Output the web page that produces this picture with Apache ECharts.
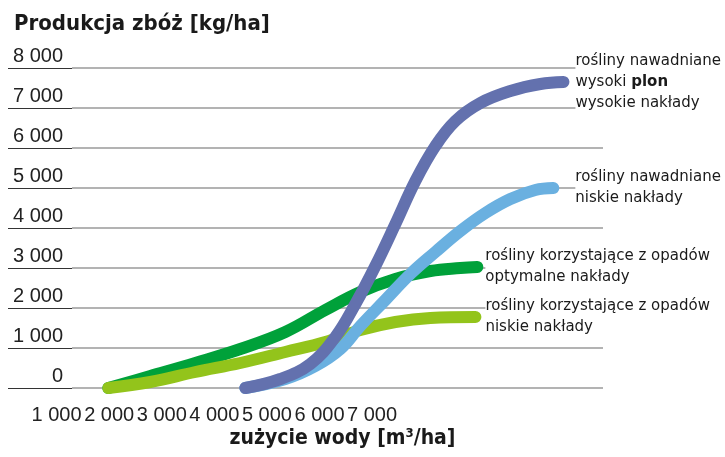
<!DOCTYPE html>
<html>
<head>
<meta charset="utf-8">
<script src="https://cdn.jsdelivr.net/npm/echarts@6/dist/echarts.min.js"></script>
<style>
  html, body { margin: 0; padding: 0; background: #fff; }
  #chart { width: 725px; height: 457px; }
</style>
</head>
<body>
<div id="chart"></div>
<script>
// water use [m3/ha] and yield [kg/ha]
const irrHighX = [4590, 5255, 5826, 6301, 6682, 7062, 7443, 7823, 8204, 8584, 9060, 9630, 10201, 10639];
const irrHighY = [0, 225, 600, 1275, 2100, 3050, 4100, 5175, 6050, 6675, 7125, 7425, 7600, 7650];

const irrLowX = [4590, 5350, 5921, 6396, 6777, 7252, 7728, 8204, 8679, 9155, 9630, 10105, 10447];
const irrLowY = [0, 225, 550, 975, 1550, 2200, 2850, 3400, 3925, 4375, 4725, 4950, 5000];

const rainOptX = [1984, 2783, 3639, 4494, 5350, 6111, 6777, 7443, 8109, 8679, 9002];
const rainOptY = [0, 300, 625, 975, 1400, 1950, 2400, 2725, 2925, 3000, 3025];

const rainLowX = [1984, 2783, 3639, 4494, 5350, 6111, 6777, 7443, 8109, 8965];
const rainLowY = [0, 150, 400, 625, 900, 1150, 1450, 1650, 1750, 1775];

const xTicks = [1000, 2000, 3000, 4000, 5000, 6000, 7000];
const yTicks = [0, 1000, 2000, 3000, 4000, 5000, 6000, 7000, 8000];

const fmt = (v) => (v === 0 ? '0' : (v / 1000) + ' 000');
const zip = (xs, ys) => xs.map((x, i) => [x, ys[i]]);

const labelFont = 'DejaVu Sans';
const boldFont = "'DejaVu Sans Condensed', 'DejaVu Sans'";
const txt = { fontFamily: labelFont, fontSize: 15, lineHeight: 21, color: '#1a1a1a' };

const makeLine = (name, xs, ys, color, label, distance, rich) => ({
  name,
  type: 'line',
  xAxisIndex: 1,
  yAxisIndex: 1,
  data: zip(xs, ys),
  smooth: 0.4,
  showSymbol: false,
  clip: false,
  lineStyle: { color, width: 12, cap: 'round', join: 'round' },
  endLabel: {
    show: true,
    formatter: label,
    distance,
    align: 'left',
    verticalAlign: 'middle',
    backgroundColor: '#fff',
    padding: [3, 6, 3, 0],
    ...txt,
    rich: rich || {}
  }
});

const chart = echarts.init(document.getElementById('chart'));

chart.setOption({
  animation: false,
  backgroundColor: '#fff',
  title: {
    text: 'Produkcja zbóż [kg/ha]',
    left: 9,
    top: 8,
    textStyle: {
      fontFamily: boldFont,
      fontWeight: 'bold',
      fontSize: 22,
      color: '#1a1a1a'
    }
  },
  grid: [
    { left: 72, right: 122, top: 68, bottom: 69, outerBoundsMode: 'none' },
    { left: 4, right: 90, top: 68, bottom: 69, outerBoundsMode: 'none' }
  ],
  xAxis: [
    {
      gridIndex: 0,
      type: 'value',
      min: 0,
      max: 1,
      name: 'zużycie wody [m³/ha]',
      nameLocation: 'middle',
      nameGap: 40,
      nameTextStyle: {
        fontFamily: boldFont,
        fontWeight: 'bold',
        fontSize: 21,
        color: '#1a1a1a',
        padding: [0, 0, 0, 10]
      },
      axisLine: { show: false },
      axisTick: { show: false },
      axisLabel: { show: false },
      splitLine: { show: false }
    },
    {
      gridIndex: 1,
      type: 'value',
      min: 0,
      max: 12000,
      interval: 1000,
      axisLine: { show: false },
      axisTick: { show: false },
      splitLine: { show: false },
      axisLabel: {
        margin: 17,
        fontFamily: 'Liberation Sans',
        fontSize: 20,
        color: '#222',
        formatter: (v) => (xTicks.includes(v) ? fmt(v) : '')
      }
    }
  ],
  yAxis: [
    {
      gridIndex: 0,
      type: 'value',
      min: yTicks[0],
      max: yTicks[yTicks.length - 1],
      interval: 1000,
      axisLine: { show: false },
      axisTick: { show: true, length: 64, lineStyle: { color: '#333', width: 1 } },
      splitLine: { lineStyle: { color: '#9a9a9a', width: 1.5 } },
      axisLabel: {
        margin: 9,
        fontFamily: 'Liberation Sans',
        fontSize: 20,
        lineHeight: 24,
        verticalAlign: 'bottom',
        color: '#222',
        formatter: fmt
      }
    },
    {
      gridIndex: 1,
      type: 'value',
      min: 0,
      max: 8000,
      show: false
    }
  ],
  series: [
    makeLine('rośliny korzystające z opadów, optymalne nakłady', rainOptX, rainOptY, '#00a13a',
      'rośliny korzystające z opadów\noptymalne nakłady', 8),
    makeLine('rośliny korzystające z opadów, niskie nakłady', rainLowX, rainLowY, '#93c41b',
      'rośliny korzystające z opadów\nniskie nakłady', 10),
    makeLine('rośliny nawadniane, niskie nakłady', irrLowX, irrLowY, '#6ab0e0',
      'rośliny nawadniane\nniskie nakłady', 22),
    makeLine('rośliny nawadniane, wysoki plon, wysokie nakłady', irrHighX, irrHighY, '#6371ae',
      '{a|rośliny nawadniane}\n{a|wysoki }{b|plon}\n{a|wysokie nakłady}', 12,
      {
        a: { ...txt },
        b: { ...txt, fontWeight: 'bold' }
      })
  ]
});
</script>
</body>
</html>
